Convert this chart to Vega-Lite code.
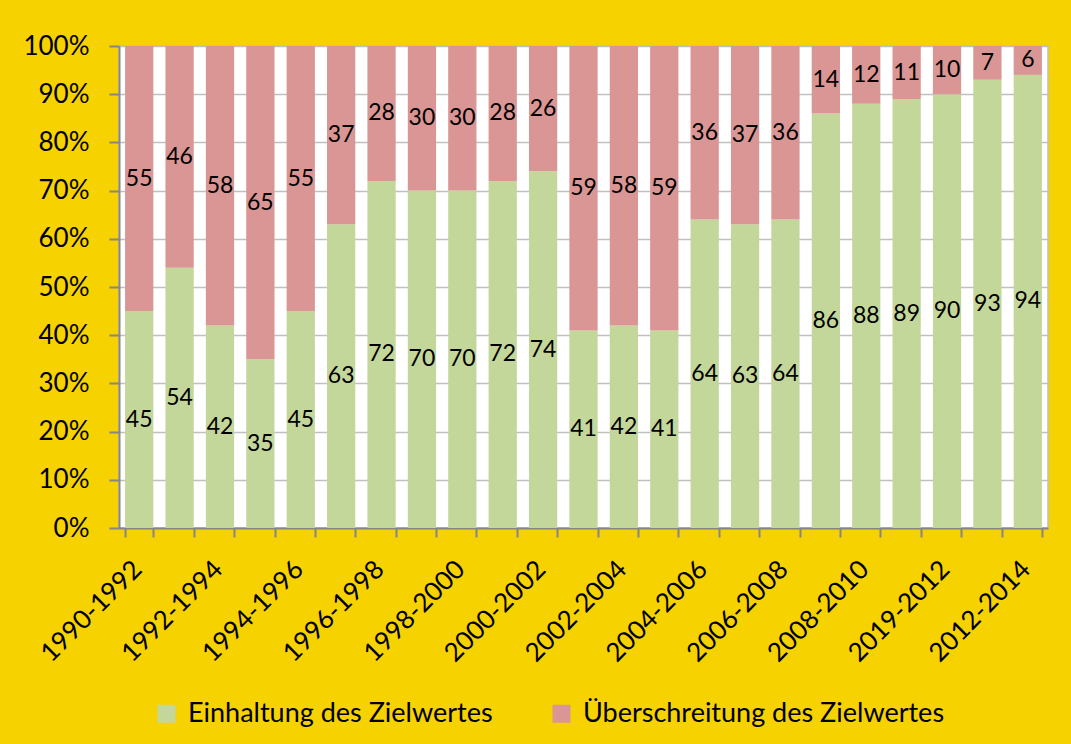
{
  "$schema": "https://vega.github.io/schema/vega-lite/v6.json",
  "autosize": {"type": "none"},
  "width": 929,
  "height": 482,
  "padding": {"left": 119, "top": 46, "right": 23, "bottom": 216},
  "background": "#F6D200",
  "config": {
    "font": "Lato",
    "view": {"fill": "white", "stroke": "#BFBFBF", "strokeWidth": 1.5},
    "axis": {
      "labelFont": "Lato",
      "labelFontSize": 26,
      "labelColor": "black",
      "domainColor": "#868686",
      "domainWidth": 2,
      "tickColor": "#868686",
      "tickWidth": 2,
      "gridColor": "#C0C0C0",
      "gridWidth": 1.5,
      "title": null
    },
    "legend": {"labelFont": "Lato", "labelFontSize": 27, "labelColor": "black", "labelLimit": 0}
  },
  "data": {
    "values": [
      {"p": "1990-1992", "Einhaltung des Zielwertes": 45, "Überschreitung des Zielwertes": 55},
      {"p": "1991-1993", "Einhaltung des Zielwertes": 54, "Überschreitung des Zielwertes": 46},
      {"p": "1992-1994", "Einhaltung des Zielwertes": 42, "Überschreitung des Zielwertes": 58},
      {"p": "1993-1995", "Einhaltung des Zielwertes": 35, "Überschreitung des Zielwertes": 65},
      {"p": "1994-1996", "Einhaltung des Zielwertes": 45, "Überschreitung des Zielwertes": 55},
      {"p": "1995-1997", "Einhaltung des Zielwertes": 63, "Überschreitung des Zielwertes": 37},
      {"p": "1996-1998", "Einhaltung des Zielwertes": 72, "Überschreitung des Zielwertes": 28},
      {"p": "1997-1999", "Einhaltung des Zielwertes": 70, "Überschreitung des Zielwertes": 30},
      {"p": "1998-2000", "Einhaltung des Zielwertes": 70, "Überschreitung des Zielwertes": 30},
      {"p": "1999-2001", "Einhaltung des Zielwertes": 72, "Überschreitung des Zielwertes": 28},
      {"p": "2000-2002", "Einhaltung des Zielwertes": 74, "Überschreitung des Zielwertes": 26},
      {"p": "2001-2003", "Einhaltung des Zielwertes": 41, "Überschreitung des Zielwertes": 59},
      {"p": "2002-2004", "Einhaltung des Zielwertes": 42, "Überschreitung des Zielwertes": 58},
      {"p": "2003-2005", "Einhaltung des Zielwertes": 41, "Überschreitung des Zielwertes": 59},
      {"p": "2004-2006", "Einhaltung des Zielwertes": 64, "Überschreitung des Zielwertes": 36},
      {"p": "2005-2007", "Einhaltung des Zielwertes": 63, "Überschreitung des Zielwertes": 37},
      {"p": "2006-2008", "Einhaltung des Zielwertes": 64, "Überschreitung des Zielwertes": 36},
      {"p": "2007-2009", "Einhaltung des Zielwertes": 86, "Überschreitung des Zielwertes": 14},
      {"p": "2008-2010", "Einhaltung des Zielwertes": 88, "Überschreitung des Zielwertes": 12},
      {"p": "2009-2011", "Einhaltung des Zielwertes": 89, "Überschreitung des Zielwertes": 11},
      {"p": "2019-2012", "Einhaltung des Zielwertes": 90, "Überschreitung des Zielwertes": 10},
      {"p": "2011-2013", "Einhaltung des Zielwertes": 93, "Überschreitung des Zielwertes": 7},
      {"p": "2012-2014", "Einhaltung des Zielwertes": 94, "Überschreitung des Zielwertes": 6}
    ]
  },
  "transform": [
    {"fold": ["Einhaltung des Zielwertes", "Überschreitung des Zielwertes"], "as": ["serie", "wert"]}
  ],
  "encoding": {
    "x": {
      "field": "p",
      "type": "nominal",
      "sort": null,
      "scale": {"paddingInner": 0.3, "paddingOuter": 0.15},
      "axis": {
        "labelAngle": -45,
        "labelAlign": "right",
        "labelBaseline": "middle",
        "labelPadding": 28,
        "labelOffset": -2,
        "tickSize": 9,
        "tickBand": "extent",
        "labelOverlap": false,
        "labelExpr": "indexof(['1990-1992','1992-1994','1994-1996','1996-1998','1998-2000','2000-2002','2002-2004','2004-2006','2006-2008','2008-2010','2019-2012','2012-2014'], datum.value) >= 0 ? datum.value : ''"
      }
    }
  },
  "layer": [
    {
      "mark": {"type": "bar"},
      "encoding": {
        "y": {
          "field": "wert",
          "type": "quantitative",
          "stack": "normalize",
          "axis": {"format": ".0%", "values": [0, 0.1, 0.2, 0.3, 0.4, 0.5, 0.6, 0.7, 0.8, 0.9, 1], "labelOverlap": false, "labelFlush": false, "tickSize": 10, "labelPadding": 20, "grid": true}
        },
        "color": {
          "field": "serie",
          "type": "nominal",
          "scale": {"domain": ["Einhaltung des Zielwertes", "Überschreitung des Zielwertes"], "range": ["#C4D79B", "#D99694"]},
          "legend": {
            "title": null,
            "orient": "none",
            "direction": "horizontal",
            "legendX": 34,
            "legendY": 654,
            "symbolType": "square",
            "symbolSize": 324,
            "symbolStrokeWidth": 0,
            "labelOffset": 8,
            "columnPadding": 55
          }
        },
        "order": {"field": "serie", "sort": "ascending"}
      }
    },
    {
      "mark": {"type": "text", "fontSize": 23, "color": "black", "font": "Lato"},
      "encoding": {
        "y": {"field": "wert", "type": "quantitative", "stack": "normalize", "bandPosition": 0.5},
        "detail": {"field": "serie"},
        "order": {"field": "serie", "sort": "ascending"},
        "text": {"field": "wert", "type": "quantitative"}
      }
    }
  ]
}
